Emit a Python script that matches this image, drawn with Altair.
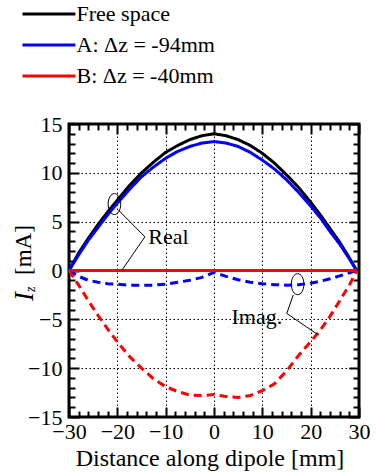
import altair as alt
import pandas as pd

FONT = "Liberation Serif"

# ---- data ----
x_mm = [-30, -28, -26, -24, -22, -20, -17.5, -15, -12.5, -10, -7.5, -5, -2.5, 0,
        2.5, 5, 7.5, 10, 12.5, 15, 17.5, 20, 22, 24, 26, 28, 29.5]
free_real = [0, 1.8, 3.3, 4.7, 6.0, 7.2, 8.7, 10.0, 11.1, 12.1, 12.8, 13.4, 13.8, 14.0,
             13.8, 13.4, 12.8, 12.0, 11.0, 9.8, 8.5, 7.0, 5.7, 4.3, 2.9, 1.3, 0]
a_real = [0, 1.6, 3.1, 4.4, 5.7, 6.9, 8.3, 9.6, 10.6, 11.5, 12.2, 12.7, 13.05, 13.2,
          13.05, 12.7, 12.1, 11.3, 10.4, 9.3, 8.0, 6.6, 5.4, 4.0, 2.7, 1.2, 0]
a_imag = [0, -0.6, -1.0, -1.2, -1.35, -1.4, -1.5, -1.5, -1.5, -1.4, -1.2, -1.0, -0.7, -0.2,
          -0.6, -0.95, -1.2, -1.35, -1.45, -1.5, -1.45, -1.3, -1.1, -0.85, -0.55, -0.25, 0]
b_real = [0, 0, 0, 0, 0, 0, 0, 0, 0, 0, 0, 0, 0, 0,
          0, 0, 0, 0, 0, 0, 0, 0, 0, 0, 0, 0, 0]
b_imag = [0, -1.5, -3.1, -4.6, -6.0, -7.3, -8.8, -10.0, -11.1, -11.9, -12.4, -12.75, -12.8, -12.7,
          -12.9, -13.0, -12.8, -12.3, -11.6, -10.3, -8.7, -7.3, -6.1, -4.7, -3.1, -1.5, 0]

series_names = ["Free space", "A: \u0394z = -94mm", "B: \u0394z = -40mm"]
series_colors = ["#000000", "#0000ff", "#ff0000"]
parts = ["Real", "Imag"]

x_major = [-30, -20, -10, 0, 10, 20, 30]
x_minor = [-28, -26, -24, -22, -18, -16, -14, -12, -8, -6, -4, -2,
           2, 4, 6, 8, 12, 14, 16, 18, 22, 24, 26, 28]
y_major = [-15, -10, -5, 0, 5, 10, 15]
y_minor = [-14, -13, -12, -11, -9, -8, -7, -6, -4, -3, -2, -1,
           1, 2, 3, 4, 6, 7, 8, 9, 11, 12, 13, 14]

# annotation data
ellipse_x = [-20.6, 17.3]
ellipse_y = [6.8, -1.4]
leader_x = [-19.8, -14.3, -19.1, 16.4, 15.05, 21.6]
leader_y = [6.2, 3.45, 0.0, -2.5, -4.4, -6.6]
leader_grp = ["real", "real", "real", "imag", "imag", "imag"]
leader_ord = [0, 1, 2, 0, 1, 2]
real_label = ["Real"]
real_pos = [-13.6, 2.7]
imag_label = ["Imag."]
imag_pos = [14.1, -5.45]
x_title = ["Distance along dipole [mm]"]
y_title_main = ["I"]
y_title_sub = ["z"]
y_title_unit = ["[mA]"]

# ---- tables ----
rows = []
for name, re_vals, im_vals in [(series_names[0], free_real, None),
                               (series_names[1], a_real, a_imag),
                               (series_names[2], b_real, b_imag)]:
    for xv, v in zip(x_mm, re_vals):
        rows.append({"x": xv, "value": v, "series": name, "part": "Real"})
    if im_vals is not None:
        for xv, v in zip(x_mm, im_vals):
            rows.append({"x": xv, "value": v, "series": name, "part": "Imag"})
df = pd.DataFrame(rows)

W, H = 290, 293
xs = alt.Scale(domain=[-30, 30], nice=False, zero=False)
ys = alt.Scale(domain=[-15, 15], nice=False, zero=False)

main = alt.Chart(df).mark_line(strokeWidth=3).encode(
    x=alt.X("x:Q", scale=xs, axis=alt.Axis(
        values=x_major, title=None, ticks=False, domain=False, labelOverlap=False,
        labelFlush=False,
        labelFont=FONT, labelFontSize=22, labelColor="black", labelPadding=4,
        grid=True, gridDash=[1.5, 2.5], gridColor="black", gridWidth=1, gridOpacity=1)),
    y=alt.Y("value:Q", scale=ys, axis=alt.Axis(
        values=y_major, title=None, ticks=False, domain=False, labelOverlap=False,
        labelFlush=False,
        labelFont=FONT, labelFontSize=22, labelColor="black", labelPadding=7,
        grid=True, gridDash=[1.5, 2.5], gridColor="black", gridWidth=1, gridOpacity=1)),
    color=alt.Color("series:N", sort=series_names,
                    scale=alt.Scale(domain=series_names, range=series_colors),
                    legend=alt.Legend(
                        title=None, orient="none", legendX=-57.5, legendY=-121,
                        symbolType="M0,0H10", symbolSize=112, symbolStrokeWidth=3,
                        labelFont=FONT, labelFontSize=22, labelColor="black",
                        labelOffset=43, rowPadding=9, padding=0)),
    strokeDash=alt.StrokeDash("part:N", scale=alt.Scale(domain=parts, range=[[1, 0], [8, 5]]),
                              legend=None),
)

frame_df = pd.DataFrame({"x": [-30, 30], "value": [-15, 15]})


def tick_axis(orient, values, size, offset):
    return alt.Axis(orient=orient, values=values, tickSize=size, tickWidth=2,
                    tickColor="black", labels=False, domain=False, grid=False,
                    title=None, offset=offset)


def x_ticks(orient, values, size):
    return alt.Chart(frame_df).mark_point(opacity=0).encode(
        x=alt.X("x:Q", scale=xs, axis=tick_axis(orient, values, size, -H)),
        y=alt.Y("value:Q", scale=ys, axis=None))


def y_ticks(orient, values, size):
    return alt.Chart(frame_df).mark_point(opacity=0).encode(
        x=alt.X("x:Q", scale=xs, axis=None),
        y=alt.Y("value:Q", scale=ys, axis=tick_axis(orient, values, size, -W)))


tick_layers = [
    x_ticks("top", x_major, 10), x_ticks("top", x_minor, 6),
    x_ticks("bottom", x_major, 10), x_ticks("bottom", x_minor, 6),
    y_ticks("right", y_major, 10), y_ticks("right", y_minor, 6),
    y_ticks("left", y_major, 10), y_ticks("left", y_minor, 6),
]

ELLIPSE = "M0,-1A0.6,1 0 1,1 0,1A0.6,1 0 1,1 0,-1Z"
ellipses = alt.Chart(pd.DataFrame({"x": ellipse_x, "value": ellipse_y})).mark_point(
    shape=ELLIPSE, size=441, filled=False, stroke="black", strokeWidth=1, opacity=1
).encode(x=alt.X("x:Q", scale=xs, axis=None), y=alt.Y("value:Q", scale=ys, axis=None))

leaders = alt.Chart(pd.DataFrame({"x": leader_x, "value": leader_y, "grp": leader_grp,
                                  "ord": leader_ord})).mark_line(
    color="black", strokeWidth=1
).encode(x=alt.X("x:Q", scale=xs, axis=None), y=alt.Y("value:Q", scale=ys, axis=None),
         detail="grp:N", order="ord:O")

real_txt = alt.Chart(pd.DataFrame({"x": [real_pos[0]], "value": [real_pos[1]], "t": real_label})).mark_text(
    font=FONT, fontSize=22, align="left", baseline="alphabetic", color="black"
).encode(x=alt.X("x:Q", scale=xs, axis=None), y=alt.Y("value:Q", scale=ys, axis=None), text="t:N")

imag_txt = alt.Chart(pd.DataFrame({"x": [imag_pos[0]], "value": [imag_pos[1]], "t": imag_label})).mark_text(
    font=FONT, fontSize=22, align="right", baseline="alphabetic", color="black"
).encode(x=alt.X("x:Q", scale=xs, axis=None), y=alt.Y("value:Q", scale=ys, axis=None), text="t:N")

xt = alt.Chart(pd.DataFrame({"t": x_title})).mark_text(
    font=FONT, fontSize=24, align="center", baseline="alphabetic", color="black"
).encode(x=alt.value(141), y=alt.value(342), text="t:N")

yt_i = alt.Chart(pd.DataFrame({"t": y_title_main})).mark_text(
    font=FONT, fontSize=27, fontStyle="italic", align="left", baseline="alphabetic",
    angle=270, color="black"
).encode(x=alt.value(-36), y=alt.value(177), text="t:N")

yt_z = alt.Chart(pd.DataFrame({"t": y_title_sub})).mark_text(
    font=FONT, fontSize=14, fontStyle="italic", align="left", baseline="alphabetic",
    angle=270, color="black"
).encode(x=alt.value(-34), y=alt.value(168), text="t:N")

yt_u = alt.Chart(pd.DataFrame({"t": y_title_unit})).mark_text(
    font=FONT, fontSize=23, align="left", baseline="alphabetic",
    angle=270, color="black"
).encode(x=alt.value(-38), y=alt.value(151), text="t:N")

chart = alt.layer(
    main, *tick_layers, ellipses, leaders, real_txt, imag_txt, xt, yt_i, yt_z, yt_u
).resolve_axis(
    x="independent", y="independent"
).properties(
    width=W, height=H,
    padding={"left": 69, "top": 124, "right": 21, "bottom": 55},
    autosize=alt.AutoSizeParams(type="none"),
).configure(
    background="white"
).configure_view(
    stroke="black", strokeWidth=3
)

chart.save("out.html", embed_options={"renderer": "svg", "actions": False})
